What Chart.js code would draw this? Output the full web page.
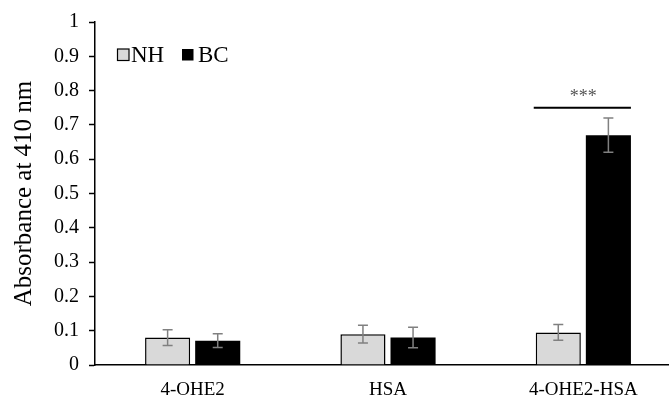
<!DOCTYPE html>
<html>
<head>
<meta charset="utf-8">
<script src="https://cdn.jsdelivr.net/npm/chart.js@4"></script>
<style>
  html, body { margin: 0; padding: 0; background: #fff; overflow: hidden; }
  #wrap { width: 681px; height: 396px; }
</style>
</head>
<body>
<div id="wrap"><canvas id="my-chart"></canvas></div>
<script>
const categories = ['4-OHE2', 'HSA', '4-OHE2-HSA'];
const nhValues = [0.080, 0.090, 0.095];
const nhErrors = [0.023, 0.026, 0.023];
const bcValues = [0.071, 0.080, 0.670];
const bcErrors = [0.020, 0.030, 0.050];
const yTicks = [0, 0.1, 0.2, 0.3, 0.4, 0.5, 0.6, 0.7, 0.8, 0.9, 1];

const serif = "'Liberation Serif', 'Times New Roman', serif";

// error bars, legend and the significance mark
const extras = {
  id: 'extras',
  afterDatasetsDraw(chart) {
    const c = chart.ctx;
    const y = chart.scales.y;
    const errs = [nhErrors, bcErrors];
    c.save();
    c.strokeStyle = '#808080';
    c.lineWidth = 1.5;
    chart.data.datasets.forEach((ds, i) => {
      chart.getDatasetMeta(i).data.forEach((bar, j) => {
        const v = ds.data[j], e = errs[i][j];
        const hi = y.getPixelForValue(v + e), lo = y.getPixelForValue(v - e);
        c.beginPath();
        c.moveTo(bar.x, hi); c.lineTo(bar.x, lo);
        c.moveTo(bar.x - 5, hi); c.lineTo(bar.x + 5, hi);
        c.moveTo(bar.x - 5, lo); c.lineTo(bar.x + 5, lo);
        c.stroke();
      });
    });

    // significance bar over the last group
    const a = chart.getDatasetMeta(0).data[2];
    const b = chart.getDatasetMeta(1).data[2];
    const sy = y.getPixelForValue(0.75);
    c.strokeStyle = '#000';
    c.lineWidth = 2;
    c.beginPath();
    c.moveTo(a.x - a.width / 2 - 2, sy);
    c.lineTo(b.x + b.width / 2, sy);
    c.stroke();
    c.fillStyle = '#555';
    c.font = '18px ' + serif;
    c.textAlign = 'center';
    c.textBaseline = 'middle';
    c.fillText('***', (a.x + b.x) / 2, sy - 10);

    // legend
    c.font = '23px ' + serif;
    c.textAlign = 'left';
    c.textBaseline = 'alphabetic';
    c.lineWidth = 1.2;
    c.fillStyle = '#d9d9d9';
    c.fillRect(117.5, 49, 11.5, 11.5);
    c.strokeStyle = '#000';
    c.strokeRect(117.5, 49, 11.5, 11.5);
    c.fillStyle = '#000';
    c.fillText('NH', 131, 61.5);
    c.fillRect(182, 49, 11.5, 11.5);
    c.fillText('BC', 198, 61.5);
    c.restore();
  }
};

new Chart(document.getElementById('my-chart'), {
  type: 'bar',
  data: {
    labels: categories,
    datasets: [
      {
        label: 'NH',
        data: nhValues,
        backgroundColor: '#d9d9d9',
        borderColor: '#000',
        borderWidth: 1.5,
        borderSkipped: 'bottom'
      },
      {
        label: 'BC',
        data: bcValues,
        backgroundColor: '#000',
        borderColor: '#000',
        borderWidth: 0
      }
    ]
  },
  options: {
    responsive: true,
    maintainAspectRatio: false,
    animation: false,
    layout: { padding: { top: 12, left: 0, right: 0, bottom: 0 } },
    datasets: { bar: { categoryPercentage: 0.513, barPercentage: 0.9 } },
    plugins: {
      legend: { display: false },
      tooltip: { enabled: false }
    },
    scales: {
      x: {
        grid: { display: false },
        border: { color: '#000', width: 1.5 },
        ticks: { color: '#000', font: { family: serif, size: 19 }, padding: 6 },
        afterFit(s) { s.height = 31; }
      },
      y: {
        min: 0,
        max: 1,
        afterBuildTicks(s) { s.ticks = yTicks.map(v => ({ value: v })); },
        grid: { drawOnChartArea: false, tickLength: 6, tickColor: '#000', tickWidth: 1.5 },
        border: { color: '#000', width: 1.5 },
        ticks: {
          color: '#000',
          font: { family: serif, size: 20 },
          padding: 10,
          callback: v => String(+v.toFixed(1))
        },
        title: {
          display: true,
          text: 'Absorbance at 410 nm',
          color: '#000',
          font: { family: serif, size: 25 },
          padding: { top: 9, bottom: 0 }
        },
        afterFit(s) { s.width = 95; }
      }
    }
  },
  plugins: [extras]
});
</script>
</body>
</html>
